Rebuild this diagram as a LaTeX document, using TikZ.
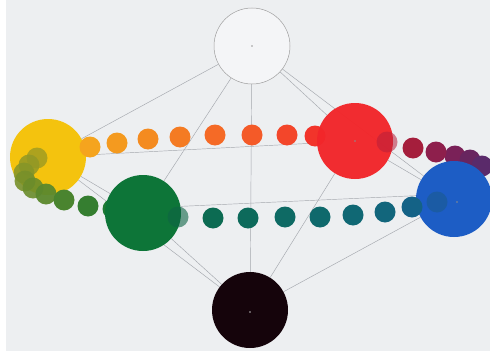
\documentclass[tikz,border=0pt]{standalone}
\usepackage{tikz}
\usetikzlibrary{backgrounds}
\definecolor{paper}{HTML}{EDEFF1}
\definecolor{wire}{HTML}{A4A7AD}
\definecolor{cyellow}{HTML}{F4C30E}
\definecolor{cred}{HTML}{F2262A}
\definecolor{cblue}{HTML}{1D5DC5}
\definecolor{cgreen}{HTML}{0D7538}
\definecolor{cblack}{HTML}{15040B}
\tikzset{
  bigdisc/.style={circle, inner sep=0pt, minimum size=76pt},
  stepdisc/.style={circle, inner sep=0pt, minimum size=21pt},
  wireline/.style={draw=wire, line width=0.45pt}
}

\begin{document}
\begin{tikzpicture}[x=1pt, y=-1pt]
  \useasboundingbox (0,0) rectangle (490,356);

  % the six main colours
  \node[bigdisc, draw=gray!75, line width=0.5pt, fill=white!40!paper] (white) at (252,46) {};
  \node[bigdisc, fill=cyellow] (yellow) at (48,157) {};
  \node[bigdisc, fill=cred, fill opacity=0.97] (red) at (355,141) {};
  \node[bigdisc, fill=cgreen] (green) at (143,213) {};
  \node[bigdisc, fill=cblue] (blue) at (454,199) {};
  \node[bigdisc, fill=cblack] (black) at (250,310) {};

  % centre marks
  \fill[gray!80] (white.center) circle (0.9);
  \fill[black!45] (red.center) circle (0.8);
  \fill[black!45] ([xshift=3pt,yshift=-3pt]blue.center) circle (0.8);
  \fill[gray!60] ([yshift=-2pt]black.center) circle (0.9);

  % steps between the main colours
  \foreach \px/\py/\c/\op [count=\i] in {90/147/F5A41E/1, 117/143/F49A1F/1, 148/139/F48B20/1,
      180/137/F47B23/1, 215/135/F56A26/1, 252/135/F45A28/1, 287/135/F3462A/1} {
    \definecolor{tint}{HTML}{\c}
    \node[stepdisc, fill=tint, fill opacity=\op] (yr\i) at (\px,\py) {};
  }
  \foreach \px/\py/\c/\op [count=\i] in {387/142/B81E3A/0.55, 413/148/A51E3C/1, 436/152/8E1F4C/1} {
    \definecolor{tint}{HTML}{\c}
    \node[stepdisc, fill=tint, fill opacity=\op] (rb\i) at (\px,\py) {};
  }
  \foreach \px/\py/\c/\op [count=\i] in {178/217/0D6444/0.6, 213/218/0C6B52/1, 248/218/0D6A5B/1,
      285/217/0E6A64/1, 320/217/0F696C/1, 353/215/106874/1, 385/212/12667C/1,
      412/207/146286/1, 437/202/1A5A8E/0.6} {
    \definecolor{tint}{HTML}{\c}
    \node[stepdisc, fill=tint, fill opacity=\op] (gb\i) at (\px,\py) {};
  }
  \foreach \px/\py/\c/\op [count=\i] in {37/158/9C9A22/0.8, 29/165/919826/0.85, 24/173/859528/0.85,
      25/181/78902A/0.9, 33/188/6A8C2B/0.9, 46/194/5B882D/0.95, 64/200/4A842F/1, 88/206/357E30/1} {
    \definecolor{tint}{HTML}{\c}
    \node[stepdisc, fill=tint, fill opacity=\op] (yg\i) at (\px,\py) {};
  }

  \begin{scope}[on background layer]
    \fill[white] (0,0) rectangle (490,356);
    \fill[paper] (6,0) rectangle (490,351);
    % edges of the double pyramid
    \foreach \a/\b in {white/yellow, white/green, white/black, white/red, white/blue,
        black/yellow, black/green, black/red, black/blue, yellow/red, yellow/green, red/blue}
      \draw[wireline] (\a) -- (\b);
    \draw[wireline] (green.10) -- (blue.175);
    % steps half hidden by the main colours
    \foreach \px/\py/\c [count=\i] in {315/136/F2342B, 455/156/7A2158, 470/160/68255F,
        482/166/5A2A6A, 113/209/1E7A34} {
      \definecolor{tint}{HTML}{\c}
      \node[stepdisc, fill=tint] (hid\i) at (\px,\py) {};
    }
  \end{scope}
\end{tikzpicture}
\end{document}
